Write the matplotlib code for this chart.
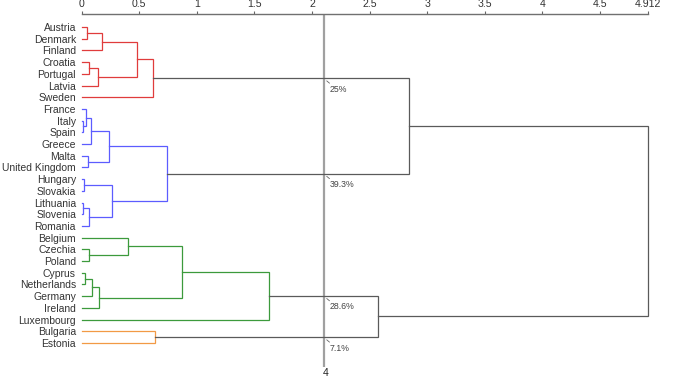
import matplotlib
matplotlib.use('Agg')
import matplotlib.pyplot as plt

plt.rcParams['font.family'] = ['Liberation Sans', 'DejaVu Sans']

# leaves, top to bottom
countries = ['Austria', 'Denmark', 'Finland', 'Croatia', 'Portugal', 'Latvia', 'Sweden',
             'France', 'Italy', 'Spain', 'Greece', 'Malta', 'United Kingdom',
             'Hungary', 'Slovakia', 'Lithuania', 'Slovenia', 'Romania',
             'Belgium', 'Czechia', 'Poland', 'Cyprus', 'Netherlands', 'Germany', 'Ireland',
             'Luxembourg', 'Bulgaria', 'Estonia']

# merges: (child a, child b, height); new node ids start at len(countries)
merge_a = [8, 15, 0, 13, 21, 7, 11, 3, 19, 29, 33, 32, 35, 39, 30, 38, 31, 18,
           42, 46, 26, 43, 45, 50, 51, 47, 53]
merge_b = [9, 16, 1, 14, 22, 28, 12, 4, 20, 17, 10, 23, 5, 24, 2, 34, 37, 36,
           40, 6, 27, 44, 41, 25, 48, 49, 52]
merge_h = [0.015, 0.015, 0.05, 0.025, 0.03, 0.04, 0.055, 0.065, 0.065, 0.065,
           0.085, 0.09, 0.14, 0.15, 0.18, 0.24, 0.265, 0.40, 0.48, 0.62, 0.64,
           0.74, 0.87, 1.63, 2.57, 2.84, 4.912]

cut = 2.1
cluster_roots = [47, 49, 51, 48]
cluster_colors = ['#e03c3c', '#5c5cff', '#3c9a3c', '#f29a45']
link_gray = '#5a5a5a'
xticks = [0, 0.5, 1, 1.5, 2, 2.5, 3, 3.5, 4, 4.5, 4.912]

n = len(countries)
pos = {i: (0.0, float(i)) for i in range(n)}
children = {}
for k, (a, b, h) in enumerate(zip(merge_a, merge_b, merge_h)):
    pos[n + k] = (h, (pos[a][1] + pos[b][1]) / 2)
    children[n + k] = (a, b)


def members(node):
    if node < n:
        return [node]
    a, b = children[node]
    return members(a) + members(b)


def subtree(node):
    if node < n:
        return []
    a, b = children[node]
    return [node] + subtree(a) + subtree(b)


node_color = {}
for root, c in zip(cluster_roots, cluster_colors):
    for nd in subtree(root):
        node_color[nd] = c

fig = plt.figure(figsize=(6.76, 3.79), dpi=100)
ax = fig.add_axes([0.1206, 0.0317, 0.8373, 0.9314])

for node, (a, b) in children.items():
    h, _ = pos[node]
    xa, ya = pos[a]
    xb, yb = pos[b]
    col = node_color.get(node, link_gray)
    ax.plot([xa, h, h, xb], [ya, ya, yb, yb], color=col, lw=0.9,
            solid_joinstyle='miter', clip_on=False)

ax.axvline(cut, color='#a0a0a0', lw=1.6, zorder=0)

for root in cluster_roots:
    h, y = pos[root]
    pct = 100 * len(members(root)) / n
    ax.annotate('', xy=(cut, y), xytext=(6, -5), textcoords='offset pixels',
                arrowprops=dict(arrowstyle='-', shrinkA=0, shrinkB=3, color='#666666', lw=0.6))
    ax.annotate('%g%%' % round(pct, 1), xy=(cut, y), xytext=(6, -11), textcoords='offset pixels',
                ha='left', va='center', fontsize=6.3, color='#444444')

ax.annotate(str(len(cluster_roots)), xy=(cut, 0), xycoords=('data', 'axes fraction'),
            xytext=(2, -6), textcoords='offset pixels', ha='center', va='center',
            fontsize=7.5, color='#222222')

ax.set_xlim(0, 4.912)
ax.set_ylim(29.05, -1.111)
ax.xaxis.tick_top()
ax.set_xticks(xticks)
ax.set_xticklabels(['%g' % t for t in xticks], fontsize=7.6, color='#333333')
ax.tick_params(axis='x', length=2.5, width=0.8, color='#666666', pad=1)
ax.set_yticks(range(n))
ax.set_yticklabels(countries, fontsize=7.5, color='#333333')
ax.tick_params(axis='y', length=0, pad=4)
for s in ['bottom', 'left', 'right']:
    ax.spines[s].set_visible(False)
ax.spines['top'].set_color('#707070')
ax.spines['top'].set_linewidth(1.0)

fig.savefig('out.png', dpi=100)
